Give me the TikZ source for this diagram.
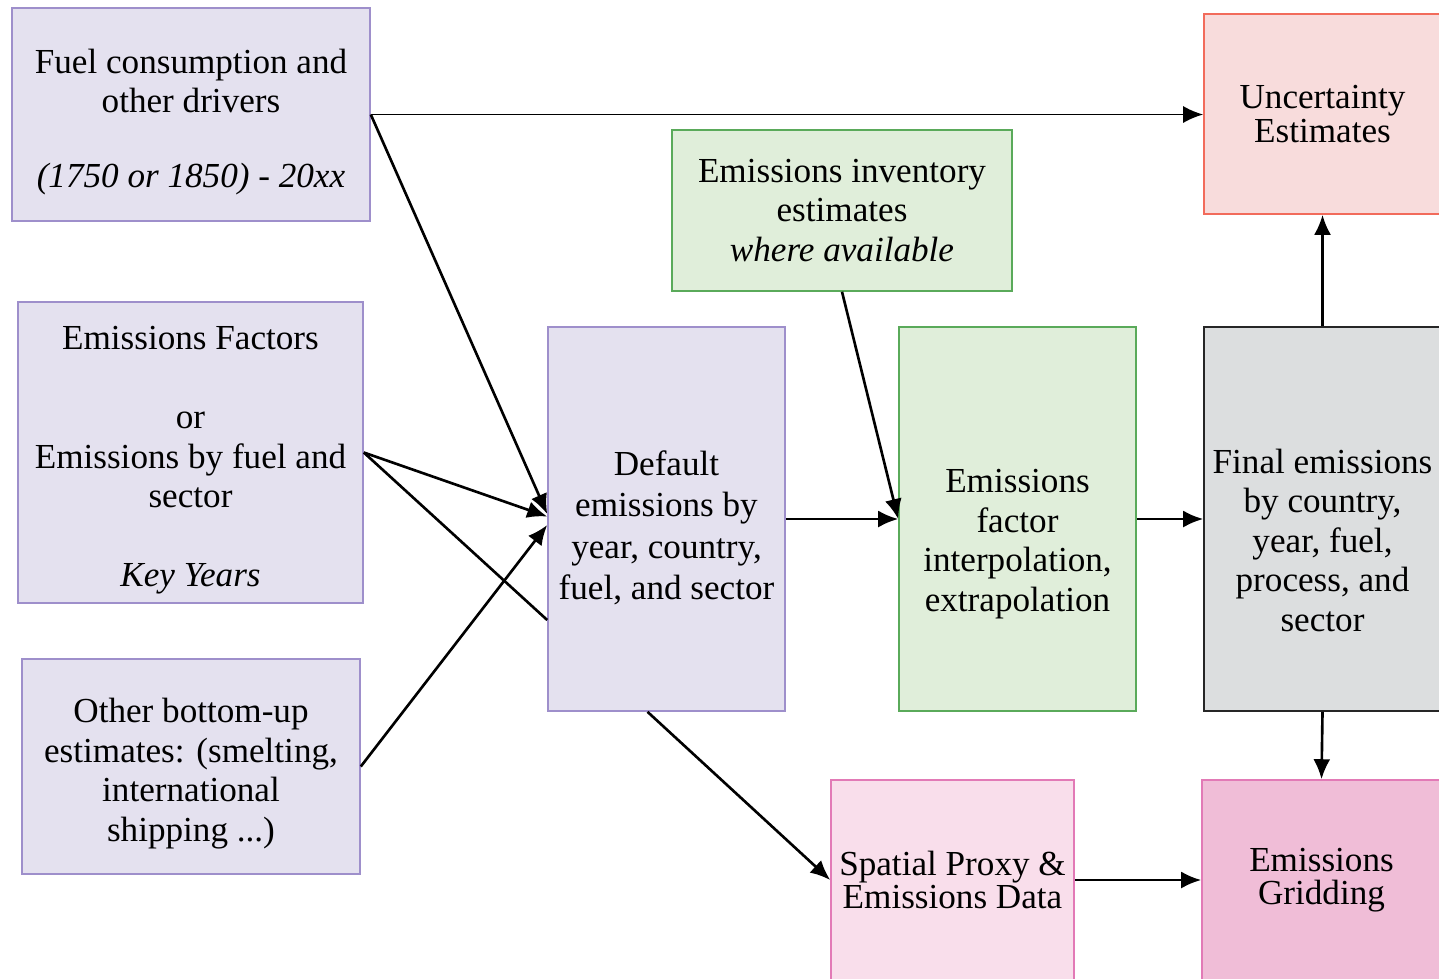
\documentclass[tikz,border=0pt]{standalone}
\usepackage{fontspec}
\setmainfont{Liberation Serif}
\usetikzlibrary{arrows.meta}
\definecolor{lavfill}{HTML}{E4E1EF}
\definecolor{lavline}{HTML}{9E8FCB}
\definecolor{grnfill}{HTML}{E0EEDA}
\definecolor{grnline}{HTML}{5AAA5A}
\definecolor{gryfill}{HTML}{DCDEDF}
\definecolor{redfill}{HTML}{F8DCDC}
\definecolor{redline}{HTML}{F26B5B}
\definecolor{pnkfill}{HTML}{F9DEEB}
\definecolor{pnkline}{HTML}{E27AB6}
\definecolor{grdfill}{HTML}{F0BDD7}

\begin{document}
\begin{tikzpicture}[
    box/.style={draw, line width=0.9pt, align=center, inner sep=2pt,
      font=\fontsize{20}{22.5}\selectfont},
    lav/.style={box, fill=lavfill, draw=lavline},
    grn/.style={box, fill=grnfill, draw=grnline},
    flow/.style={-{Latex[length=4mm,width=3.4mm]}, line width=1.5pt}]
			\clip(0,0) rectangle (28.78,-19.56);
			% inputs
			\node (fuel) at (3.82,-2.29) [lav, minimum width=7.16cm, minimum height=4.26cm]
			  {\rule{0pt}{22pt}Fuel consumption and\\other drivers\\[0.7cm]\textit{(1750 or 1850) - 20xx}};
			\node (factors) at (3.81,-9.05) [lav, minimum width=6.9cm, minimum height=6.02cm]
			  {\rule{0pt}{22pt}Emissions Factors\\[22.5pt]or\\Emissions by fuel and\\sector\\[22.5pt]\textit{Key Years}};
			\node (other) at (3.82,-15.33) [lav, minimum width=6.76cm, minimum height=4.3cm]
			  {\rule{0pt}{22pt}Other bottom-up\\estimates: (smelting,\\international\\shipping ...)};
			% middle
			\node (default) at (13.33,-10.38) [lav, minimum width=4.74cm, minimum height=7.68cm,
			  font=\fontsize{20}{23.5}\selectfont]
			  {\rule{0pt}{24pt}Default\\emissions by\\year, country,\\fuel, and sector};
			\node (inventory) at (16.84,-4.21) [grn, minimum width=6.8cm, minimum height=3.22cm]
			  {Emissions inventory\\estimates\\\textit{where available}};
			\node (interp) at (20.35,-10.38) [grn, minimum width=4.74cm, minimum height=7.68cm]
			  {\rule{0pt}{42pt}Emissions\\factor\\interpolation,\\extrapolation};
			\node (spatial) at (19.05,-17.6) [box, fill=pnkfill, draw=pnkline, minimum width=4.86cm, minimum height=4cm,
			  font=\fontsize{20}{19}\selectfont]
			  {Spatial Proxy \&\\Emissions Data};
			% outputs
			\node (final) at (26.45,-10.38) [box, fill=gryfill, draw=black!85, minimum width=4.74cm, minimum height=7.68cm]
			  {\rule{0pt}{38pt}Final emissions\\by country,\\year, fuel,\\process, and\\sector};
			\node (uncert) at (26.45,-2.28) [box, fill=redfill, draw=redline, minimum width=4.74cm, minimum height=4cm,
			  font=\fontsize{20}{19}\selectfont]
			  {Uncertainty\\Estimates};
			\node (grid) at (26.43,-17.6) [box, fill=grdfill, draw=pnkline, minimum width=4.78cm, minimum height=4cm,
			  font=\fontsize{20}{19}\selectfont]
			  {Emissions\\Gridding};
			% connectors
			\draw[flow, line width=1.1pt](fuel.east)--(fuel.east-|uncert.west);
			\draw[flow](fuel.east)--([yshift=0.1cm]default.west);
			\draw[flow](factors.east)--([yshift=0.05cm]default.west);
			\draw[line width=1.5pt](factors.east)--([yshift=-2.02cm]default.west);
			\draw[flow](other.east)--([yshift=-0.12cm]default.west);
			\draw[flow](default.east)--(interp.west);
			\draw[flow](inventory.south)--(interp.west);
			\draw[flow](interp.east)--(final.west);
			\draw[flow](final.north)--(uncert.south);
			\draw[flow](final.south)--(grid.north);
			\draw[flow]([xshift=-0.38cm]default.south)--(spatial.west);
			\draw[flow](spatial.east)--(grid.west);
		\end{tikzpicture}
\end{document}
